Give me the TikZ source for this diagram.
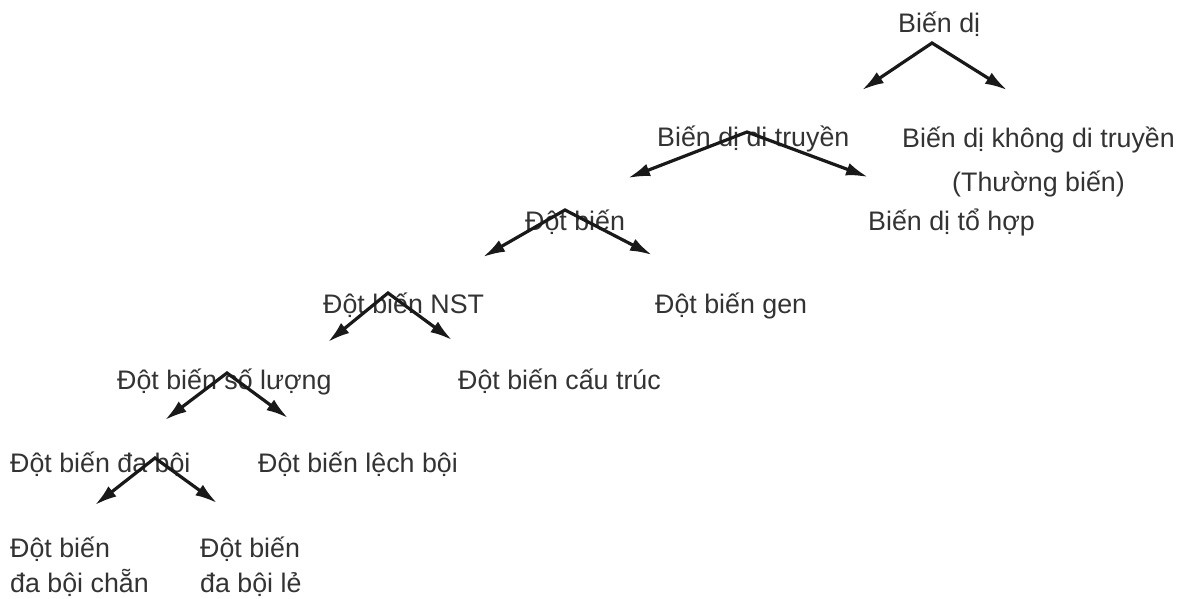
\documentclass[tikz,border=0pt]{standalone}
\usepackage{fontspec}
\setmainfont{Liberation Sans}
\usetikzlibrary{arrows.meta}
\definecolor{txt}{gray}{0.2}
\definecolor{arr}{gray}{0.1}
\begin{document}
\begin{tikzpicture}[x=1pt,y=-1pt,
  lbl/.style={anchor=base west,inner sep=0pt,text=txt,font=\fontsize{26.8}{32}\selectfont},
  br/.style={line width=3.2pt,draw=arr,{Latex[length=22pt,width=13pt]}-{Latex[length=22pt,width=13pt]},line join=miter}]
\useasboundingbox (0,0) rectangle (1184,599);
% texts
\node[lbl] (bd) at (898,33) {Biến dị};
\node[lbl] (bddt) at (657,147) {Biến dị di truyền};
\node[lbl,align=center] (bdkdt) at (902,192) {Biến dị không di truyền\\[12pt](Thường biến)};
\node[lbl] (bdth) at (868,230) {Biến dị tổ hợp};
\node[lbl] (db) at (525,230) {Đột biến};
\node[lbl] (dbnst) at (323,313) {Đột biến NST};
\node[lbl] (dbgen) at (655,313) {Đột biến gen};
\node[lbl] (dbsl) at (117,389) {Đột biến số lượng};
\node[lbl] (dbct) at (458,389) {Đột biến cấu trúc};
\node[lbl] (dbdb) at (10,472) {Đột biến đa bội};
\node[lbl] (dblb) at (258,472) {Đột biến lệch bội};
\node[lbl,align=left] (dbchan) at (10,592) {Đột biến\\[3pt]đa bội chẵn};
\node[lbl,align=left] (dble) at (200,592) {Đột biến\\[3pt]đa bội lẻ};
% branch points
\coordinate (a1) at (932,43);  \coordinate (l1) at (862,90);  \coordinate (r1) at (1007,90);
\coordinate (a2) at (747,132); \coordinate (l2) at (628,178); \coordinate (r2) at (868,177);
\coordinate (a3) at (565,210); \coordinate (l3) at (483,257); \coordinate (r3) at (652,255);
\coordinate (a4) at (388,293); \coordinate (l4) at (328,342); \coordinate (r4) at (452,340);
\coordinate (a5) at (227,373); \coordinate (l5) at (165,420); \coordinate (r5) at (288,418);
\coordinate (a6) at (155,458); \coordinate (l6) at (95,505);  \coordinate (r6) at (217,503);
\foreach \i in {1,...,6} {\draw[br] (l\i) -- (a\i) -- (r\i);}
\end{tikzpicture}
\end{document}
